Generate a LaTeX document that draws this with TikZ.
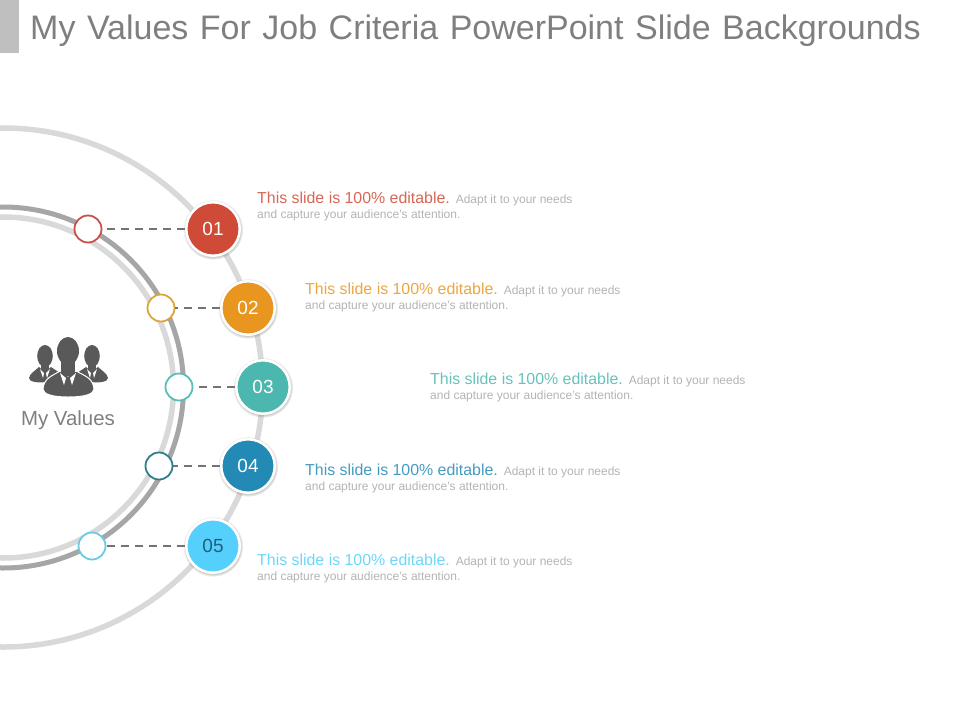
\documentclass[tikz,border=0pt]{standalone}
\usepackage{fontspec}
\setmainfont{Liberation Sans}
\usetikzlibrary{shadows}
\definecolor{ringlight}{HTML}{D9D9D9}
\definecolor{ringdark}{HTML}{A6A6A6}
\definecolor{titlegrey}{HTML}{7F7F7F}
\definecolor{smallgrey}{HTML}{B3B3B3}
\definecolor{icongrey}{HTML}{595959}
\definecolor{col1}{HTML}{D04B37}
\definecolor{col2}{HTML}{E89620}
\definecolor{col3}{HTML}{4CB7AF}
\definecolor{col4}{HTML}{2389B5}
\definecolor{col5}{HTML}{55CFFB}
\definecolor{edge1}{HTML}{C8504A}
\definecolor{edge2}{HTML}{DDA43A}
\definecolor{edge3}{HTML}{5CBDB5}
\definecolor{edge4}{HTML}{2E7F8E}
\definecolor{edge5}{HTML}{6ACBE0}
\definecolor{num5}{HTML}{1F5F80}
\begin{document}
\begin{tikzpicture}
[x=1pt,y=-1pt,%
  bignode/.style={shape=circle,minimum size=53.5pt,inner sep=0pt,line width=2.5pt,draw=white,
    circular drop shadow={shadow xshift=0pt,shadow yshift=-0.5pt,shadow scale=1.13,opacity=0.6}},%
  smallnode/.style={shape=circle,minimum size=27pt,inner sep=0pt,line width=1.8pt,fill=white},%
  dashline/.style={line width=1.8pt,draw=black!55,dash pattern=on 8.5pt off 5.5pt},%
  ringthin/.style={line width=5.5pt,draw=ringlight},%
  ringthick/.style={line width=5pt,draw=ringdark},%
  headtext/.style={inner sep=0pt,anchor=west,align=left,font=\fontsize{15.9}{15.5}\selectfont}]
\useasboundingbox (0,0) rectangle (960,720);
\clip (0,0) rectangle (960,720);
%% title
\fill[black!25] (0,0) rectangle (19,53);
\node (title) at (30,31) [anchor=west,inner sep=0pt,text=titlegrey,font=\fontsize{34}{40}\selectfont] {\spaceskip=11.5pt My Values For Job Criteria PowerPoint Slide Backgrounds};
%% rings
\draw[ringthin] (3,387.5) circle (259.5);
\draw[ringthick] (3,387.5) circle (180.5);
\draw[ringthin] (3,387.5) circle (170.5);
%% nodes or vertices
\foreach \nodename/\x/\y/\sx/\tx/\ty/\numcol in {1/213/229/88/257/206/white, 2/248/308/161/305/297/white, 3/263/387/179/430/387/white, 4/248/466/159/305/478/white, 5/213/546/92/257/568/num5} {
  \node (big\nodename) at (\x,\y) [bignode,fill=col\nodename,text=\numcol,font=\fontsize{19}{20}\selectfont] {0\nodename};
  \node (small\nodename) at (\sx,\y) [smallnode,draw=edge\nodename] {};
  \node (text\nodename) at (\tx,\ty) [headtext,text=col\nodename!85] {This slide is 100\% editable. {\fontsize{12}{14}\selectfont\color{smallgrey}Adapt it to your needs}\\[-0.5pt]{\fontsize{12}{14}\selectfont\color{smallgrey}and capture your audience's attention.}};
}
%% edges or lines
\path
\foreach \startnode/\endnode in {big1/small1, big2/small2, big3/small3, big4/small4, big5/small5} {
  (\startnode) edge[dashline] (\endnode)
};
%% people icon
\foreach \flip/\off in {1/0, -1/137} {
  \begin{scope}[shift={(\off,0)},xscale=\flip]
    \fill[icongrey] (45,356) ellipse (7.8 and 11);
    \fill[icongrey] (41,362) rectangle (49,372);
    \fill[icongrey] (29,378) .. controls (30,373) and (35,371) .. (39,367) -- (45,372) -- (51,367) .. controls (55,370) and (60,372) .. (62,376) -- (46,382) .. controls (38,383) and (29,382) .. (29,378) -- cycle;
    \fill[white] (40,369) -- (44,373) -- (43,378) -- cycle;
    \fill[white] (50,369) -- (46,373) -- (47,378) -- cycle;
  \end{scope}
}
\filldraw[icongrey,draw=white,line width=1pt] (43,389) .. controls (44,378) and (52,376) .. (60,371) -- (68,376) -- (76,371) .. controls (85,376) and (93,378) .. (94,389) .. controls (94,394) and (85,397) .. (68,397) .. controls (52,397) and (43,394) .. (43,389) -- cycle;
\fill[icongrey] (68,351) ellipse (11 and 14);
\fill[icongrey] (61,358) rectangle (75,376);
\fill[white] (60,373) -- (66,378) -- (64,385) -- cycle;
\fill[white] (76,373) -- (70,378) -- (72,385) -- cycle;
\node (iconlabel) at (68,420) [inner sep=0pt,text=titlegrey,font=\fontsize{20.4}{24}\selectfont] {My Values};
\end{tikzpicture}
\end{document}
